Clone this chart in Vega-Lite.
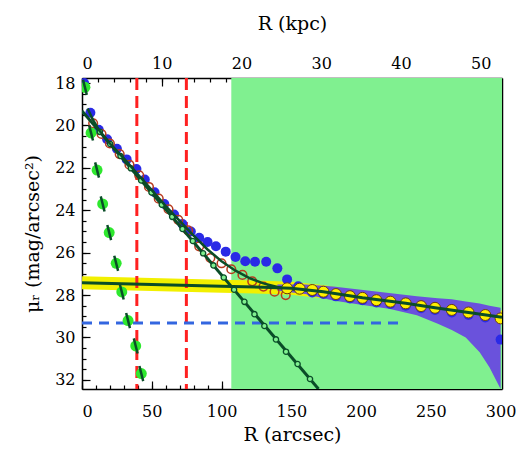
{
  "$schema": "https://vega.github.io/schema/vega-lite/v6.json",
  "width": 420,
  "height": 311,
  "autosize": "none",
  "padding": {"left": 82, "top": 78, "right": 27, "bottom": 63},
  "background": "white",
  "config": {
    "view": {"stroke": null},
    "axis": {
      "labelFont": "DejaVu Serif", "titleFont": "DejaVu Serif",
      "labelFontSize": 16, "titleFontSize": 19, "titleFontWeight": "normal",
      "labelColor": "black", "titleColor": "black", "tickColor": "black",
      "domainColor": "black", "domainWidth": 1.5, "tickWidth": 1.2,
      "grid": false, "zindex": 1
    }
  },
  "datasets": {
    "region": [{"R": 107, "R2": 301}],
    "vlines": [{"R": 39.3}, {"R": 74.8}],
    "hline": [{"R": 0, "mu": 29.32}, {"R": 230, "mu": 29.32}],
    "blue": [{"R":1.5,"mu":18.0},{"R":6,"mu":19.4},{"R":12,"mu":20.2},{"R":18,"mu":20.65},{"R":25,"mu":21.1},{"R":32,"mu":21.6},{"R":39,"mu":22.05},{"R":45,"mu":22.55},{"R":52,"mu":23.15},{"R":59,"mu":23.7},{"R":66,"mu":24.2},{"R":72,"mu":24.65},{"R":78,"mu":25.0},{"R":84,"mu":25.3},{"R":90,"mu":25.5},{"R":96,"mu":25.7},{"R":103,"mu":25.95},{"R":110,"mu":26.2},{"R":117,"mu":26.4},{"R":124,"mu":26.43},{"R":132,"mu":26.43},{"R":140,"mu":26.74},{"R":147,"mu":27.26},{"R":155,"mu":27.58},{"R":165,"mu":27.88},{"R":173,"mu":27.95},{"R":182,"mu":28.06},{"R":192,"mu":28.16},{"R":201,"mu":28.24},{"R":211,"mu":28.35},{"R":221,"mu":28.42},{"R":232,"mu":28.5},{"R":243,"mu":28.62},{"R":253,"mu":28.7},{"R":265,"mu":28.82},{"R":277,"mu":28.94},{"R":289,"mu":29.06},{"R":300,"mu":30.1}],
    "red": [{"R":8,"mu":19.9},{"R":14,"mu":20.4},{"R":20,"mu":20.85},{"R":27,"mu":21.35},{"R":34,"mu":21.85},{"R":41,"mu":22.35},{"R":48,"mu":22.9},{"R":55,"mu":23.45},{"R":62,"mu":23.95},{"R":69,"mu":24.45},{"R":76,"mu":24.95},{"R":84,"mu":25.7},{"R":92,"mu":26.25},{"R":100,"mu":26.5},{"R":107,"mu":26.78},{"R":115,"mu":27.05},{"R":122,"mu":27.35},{"R":130,"mu":27.6},{"R":138,"mu":27.84},{"R":146,"mu":28.0}],
    "green": [{"R":2.1,"mu":18.2},{"R":6.5,"mu":20.35},{"R":10.8,"mu":22.1},{"R":14.8,"mu":23.7},{"R":19.5,"mu":25.05},{"R":24.5,"mu":26.5},{"R":28.5,"mu":27.85},{"R":33,"mu":29.2},{"R":38.5,"mu":30.4},{"R":42.5,"mu":31.7}],
    "innerline": [{"R":0,"mu":19.31},{"R":169.5,"mu":32.43}],
    "innerpts": [{"R":12.8,"mu":20.3},{"R":20.2,"mu":20.87},{"R":27.6,"mu":21.44},{"R":35,"mu":22.02},{"R":42.4,"mu":22.59},{"R":49.8,"mu":23.16},{"R":57.2,"mu":23.74},{"R":64.6,"mu":24.31},{"R":72,"mu":24.88},{"R":79.4,"mu":25.45},{"R":86.8,"mu":26.03},{"R":94.2,"mu":26.6},{"R":101.6,"mu":27.17},{"R":109,"mu":27.75},{"R":116.4,"mu":28.32},{"R":123.6,"mu":28.9},{"R":130.7,"mu":29.46},{"R":139,"mu":30.09},{"R":146.2,"mu":30.67},{"R":154.5,"mu":31.25},{"R":163.4,"mu":31.96}],
    "total": [{"R":4,"mu":19.2},{"R":8,"mu":19.75},{"R":12,"mu":20.2},{"R":20,"mu":20.85},{"R":30,"mu":21.55},{"R":40,"mu":22.3},{"R":50,"mu":23.05},{"R":60,"mu":23.8},{"R":70,"mu":24.5},{"R":80,"mu":25.2},{"R":90,"mu":25.85},{"R":100,"mu":26.4},{"R":110,"mu":26.85},{"R":120,"mu":27.2},{"R":130,"mu":27.45},{"R":140,"mu":27.62},{"R":150,"mu":27.72},{"R":160,"mu":27.78},{"R":173,"mu":27.86}],
    "outer": [{"R":0,"mu":27.42},{"R":50,"mu":27.5},{"R":100,"mu":27.58},{"R":130,"mu":27.63},{"R":150,"mu":27.68},{"R":173,"mu":27.84},{"R":201,"mu":28.13},{"R":232,"mu":28.39},{"R":253,"mu":28.6},{"R":277,"mu":28.82},{"R":301,"mu":29.05}],
    "yellow": [{"R":147,"mu":27.68},{"R":156,"mu":27.7},{"R":165,"mu":27.76},{"R":173,"mu":27.84},{"R":182,"mu":27.95},{"R":192,"mu":28.05},{"R":201,"mu":28.13},{"R":211,"mu":28.24},{"R":221,"mu":28.31},{"R":232,"mu":28.39},{"R":243,"mu":28.52},{"R":253,"mu":28.6},{"R":265,"mu":28.7},{"R":277,"mu":28.82},{"R":289,"mu":28.94},{"R":300,"mu":29.1}],
    "band": [{"R":140,"lo":27.5,"hi":27.8},{"R":160,"lo":27.5,"hi":27.95},{"R":180,"lo":27.6,"hi":28.25},{"R":200,"lo":27.75,"hi":28.45},{"R":220,"lo":27.9,"hi":28.65},{"R":240,"lo":28.05,"hi":28.95},{"R":255,"lo":28.15,"hi":29.35},{"R":265,"lo":28.2,"hi":29.65},{"R":275,"lo":28.3,"hi":30.0},{"R":285,"lo":28.4,"hi":30.7},{"R":292,"lo":28.5,"hi":31.4},{"R":300,"lo":28.6,"hi":32.43}]
  },
  "resolve": {"axis": {"x": "independent", "y": "independent"}},
  "layer": [
    {
      "data": {"name": "region"},
      "mark": {"type": "rect", "fill": "#80f090", "clip": true},
      "encoding": {
        "x": {"field": "R", "type": "quantitative", "scale": {"domain": [0, 301], "nice": false, "zero": false}, "axis": null},
        "x2": {"field": "R2"}
      }
    },
    {
      "data": {"name": "outer"},
      "mark": {"type": "line", "stroke": "#f2f000", "strokeWidth": 13, "clip": true},
      "encoding": {
        "x": {"field": "R", "type": "quantitative", "scale": {"domain": [0, 301], "nice": false, "zero": false},
          "axis": {"orient": "bottom", "values": [0,50,100,150,200,250,300], "tickSize": -8, "labelPadding": 22, "title": "R (arcsec)", "titlePadding": 6, "domain": true}},
        "y": {"field": "mu", "type": "quantitative", "scale": {"domain": [17.76, 32.43], "reverse": true, "nice": false, "zero": false},
          "axis": {"orient": "left", "values": [18,20,22,24,26,28,30,32], "tickSize": -8, "labelPadding": 15, "title": "μᵣ (mag/arcsec²)", "titlePadding": 12, "domain": true}}
      }
    },
    {
      "data": {"name": "band"},
      "mark": {"type": "area", "fill": "#6a52dc", "clip": true},
      "encoding": {
        "x": {"field": "R", "type": "quantitative", "scale": {"domain": [0, 301], "nice": false, "zero": false},
          "axis": {"orient": "bottom", "values": [0,10,20,30,40,50,60,70,80,90,100,110,120,130,140,150,160,170,180,190,200,210,220,230,240,250,260,270,280,290,300], "tickSize": -4, "labels": false, "title": null, "domain": false}},
        "y": {"field": "lo", "type": "quantitative", "scale": {"domain": [17.76, 32.43], "reverse": true, "nice": false, "zero": false},
          "axis": {"orient": "left", "values": [18,18.5,19,19.5,20,20.5,21,21.5,22,22.5,23,23.5,24,24.5,25,25.5,26,26.5,27,27.5,28,28.5,29,29.5,30,30.5,31,31.5,32], "tickSize": -4, "labels": false, "title": null, "domain": false}},
        "y2": {"field": "hi"}
      }
    },
    {
      "data": {"name": "vlines"},
      "mark": {"type": "rule", "stroke": "#ff2020", "strokeWidth": 3, "strokeDash": [12, 6]},
      "encoding": {
        "x": {"field": "R", "type": "quantitative", "scale": {"domain": [0, 301], "nice": false, "zero": false}, "axis": null}
      }
    },
    {
      "data": {"name": "hline"},
      "mark": {"type": "line", "stroke": "#3366e0", "strokeWidth": 3, "strokeDash": [10, 7]},
      "encoding": {
        "x": {"field": "R", "type": "quantitative", "scale": {"domain": [0, 301], "nice": false, "zero": false}, "axis": null},
        "y": {"field": "mu", "type": "quantitative", "scale": {"domain": [17.76, 32.43], "reverse": true, "nice": false, "zero": false}, "axis": null}
      }
    },
    {
      "data": {"name": "blue"},
      "mark": {"type": "point", "filled": true, "fill": "#2a2ae6", "opacity": 1, "size": 100, "clip": true},
      "encoding": {
        "x": {"field": "R", "type": "quantitative", "scale": {"domain": [0, 301], "nice": false, "zero": false},
          "axis": {"orient": "top", "values": [0,57.1429,114.2857,171.4286,228.5714,285.7143], "labelExpr": "format(datum.value*0.175, '.0f')", "tickSize": -8, "labelPadding": 15, "title": "R (kpc)", "titlePadding": 22, "domain": true}},
        "y": {"field": "mu", "type": "quantitative", "scale": {"domain": [17.76, 32.43], "reverse": true, "nice": false, "zero": false},
          "axis": {"orient": "right", "values": [18,20,22,24,26,28,30,32], "tickSize": -8, "labels": false, "title": null, "domain": true}}
      }
    },
    {
      "data": {"name": "red"},
      "mark": {"type": "point", "filled": false, "stroke": "#b83a1e", "strokeWidth": 1.5, "opacity": 1, "size": 75, "clip": true},
      "encoding": {
        "x": {"field": "R", "type": "quantitative", "scale": {"domain": [0, 301], "nice": false, "zero": false},
          "axis": {"orient": "top", "values": [0,11.4286,22.8571,34.2857,45.7143,57.1429,68.5714,80,91.4286,102.8571,114.2857,125.7143,137.1429,148.5714,160,171.4286,182.8571,194.2857,205.7143,217.1429,228.5714,240,251.4286,262.8571,274.2857,285.7143,297.1429], "tickSize": -4, "labels": false, "title": null, "domain": false}},
        "y": {"field": "mu", "type": "quantitative", "scale": {"domain": [17.76, 32.43], "reverse": true, "nice": false, "zero": false},
          "axis": {"orient": "right", "values": [18,18.5,19,19.5,20,20.5,21,21.5,22,22.5,23,23.5,24,24.5,25,25.5,26,26.5,27,27.5,28,28.5,29,29.5,30,30.5,31,31.5,32], "tickSize": -4, "labels": false, "title": null, "domain": false}}
      }
    },
    {
      "data": {"name": "green"},
      "mark": {"type": "point", "filled": true, "fill": "#2ee82e", "opacity": 1, "size": 120, "clip": true},
      "encoding": {
        "x": {"field": "R", "type": "quantitative", "scale": {"domain": [0, 301], "nice": false, "zero": false}, "axis": null},
        "y": {"field": "mu", "type": "quantitative", "scale": {"domain": [17.76, 32.43], "reverse": true, "nice": false, "zero": false}, "axis": null}
      }
    },
    {
      "data": {"name": "green"},
      "mark": {"type": "point", "shape": "M-0.25,-1L0.25,1", "filled": false, "stroke": "#0a4d28", "strokeWidth": 2.5, "opacity": 1, "size": 230, "clip": true},
      "encoding": {
        "x": {"field": "R", "type": "quantitative", "scale": {"domain": [0, 301], "nice": false, "zero": false}, "axis": null},
        "y": {"field": "mu", "type": "quantitative", "scale": {"domain": [17.76, 32.43], "reverse": true, "nice": false, "zero": false}, "axis": null}
      }
    },
    {
      "data": {"name": "innerline"},
      "mark": {"type": "line", "stroke": "#0a4d28", "strokeWidth": 3, "clip": true},
      "encoding": {
        "x": {"field": "R", "type": "quantitative", "scale": {"domain": [0, 301], "nice": false, "zero": false}, "axis": null},
        "y": {"field": "mu", "type": "quantitative", "scale": {"domain": [17.76, 32.43], "reverse": true, "nice": false, "zero": false}, "axis": null}
      }
    },
    {
      "data": {"name": "innerpts"},
      "mark": {"type": "point", "filled": true, "fill": "#80f090", "stroke": "#0a4d28", "strokeWidth": 1.3, "opacity": 1, "size": 28, "clip": true},
      "encoding": {
        "x": {"field": "R", "type": "quantitative", "scale": {"domain": [0, 301], "nice": false, "zero": false}, "axis": null},
        "y": {"field": "mu", "type": "quantitative", "scale": {"domain": [17.76, 32.43], "reverse": true, "nice": false, "zero": false}, "axis": null}
      }
    },
    {
      "data": {"name": "total"},
      "mark": {"type": "line", "stroke": "#0a4d28", "strokeWidth": 2.5, "clip": true},
      "encoding": {
        "x": {"field": "R", "type": "quantitative", "scale": {"domain": [0, 301], "nice": false, "zero": false}, "axis": null},
        "y": {"field": "mu", "type": "quantitative", "scale": {"domain": [17.76, 32.43], "reverse": true, "nice": false, "zero": false}, "axis": null}
      }
    },
    {
      "data": {"name": "yellow"},
      "mark": {"type": "point", "filled": true, "fill": "#fff000", "stroke": "#6a3a10", "strokeWidth": 1, "opacity": 1, "size": 120, "clip": true},
      "encoding": {
        "x": {"field": "R", "type": "quantitative", "scale": {"domain": [0, 301], "nice": false, "zero": false}, "axis": null},
        "y": {"field": "mu", "type": "quantitative", "scale": {"domain": [17.76, 32.43], "reverse": true, "nice": false, "zero": false}, "axis": null}
      }
    },
    {
      "data": {"name": "outer"},
      "mark": {"type": "line", "stroke": "#0a4d28", "strokeWidth": 3, "clip": true},
      "encoding": {
        "x": {"field": "R", "type": "quantitative", "scale": {"domain": [0, 301], "nice": false, "zero": false}, "axis": null},
        "y": {"field": "mu", "type": "quantitative", "scale": {"domain": [17.76, 32.43], "reverse": true, "nice": false, "zero": false}, "axis": null}
      }
    }
  ]
}
